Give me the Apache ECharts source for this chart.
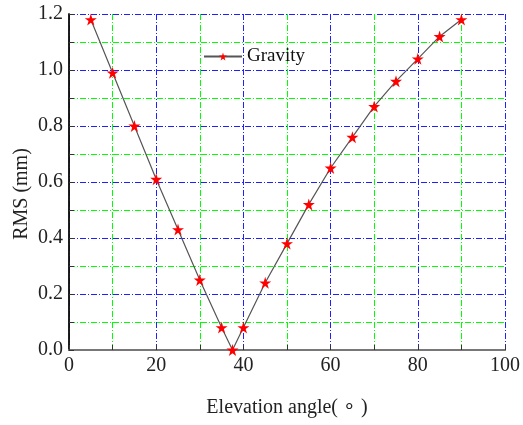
<!DOCTYPE html>
<html>
<head>
<meta charset="utf-8">
<script src="https://cdn.jsdelivr.net/npm/echarts@6/dist/echarts.min.js"></script>
<style>
html,body{margin:0;padding:0;background:#fff;}
#c{width:523px;height:425px;}
</style>
</head>
<body>
<div id="c"></div>
<script>
var elevation = [5, 10, 15, 20, 25, 30, 35, 37.5, 40, 45, 50, 55, 60, 65, 70, 75, 80, 85, 90];
var rms = [1.18, 0.99, 0.80, 0.61, 0.43, 0.25, 0.08, 0.0, 0.08, 0.24, 0.38, 0.52, 0.65, 0.76, 0.87, 0.96, 1.04, 1.12, 1.18];
var seriesName = 'Gravity';
var xTitle = 'Elevation angle( \u2218 )';
var yTitle = 'RMS (mm)';

var star = 'path://M50,0 L61,35 L98,35 L68,57 L79,91 L50,70 L21,91 L32,57 L2,35 L39,35 Z';
var font = '"Liberation Serif", "Times New Roman", serif';
var dash = [6, 2, 1, 2];

var chart = echarts.init(document.getElementById('c'));
chart.setOption({
  animation: false,
  backgroundColor: '#fff',
  textStyle: {fontFamily: font},
  grid: {left: 69, right: 14, top: 14, bottom: 75, containLabel: false},
  legend: {
    left: 198, top: 42,
    itemWidth: 38, itemHeight: 10,
    itemGap: 4,
    textStyle: {fontFamily: font, fontSize: 19, color: '#111'},
    data: [{name: seriesName}]
  },
  xAxis: [{
    type: 'value', min: 0, max: 100, interval: 20,
    name: xTitle, nameLocation: 'middle', nameGap: 48,
    nameTextStyle: {fontFamily: font, fontSize: 20, color: '#222'},
    axisLine: {show: true, onZero: false, lineStyle: {color: '#111', width: 1.5}},
    axisTick: {show: true, inside: true, length: 5, lineStyle: {color: '#333'}},
    minorTick: {show: true, splitNumber: 2, length: 5, lineStyle: {color: '#333'}},
    axisLabel: {fontFamily: font, fontSize: 20, color: '#222', margin: 6},
    splitLine: {show: true, lineStyle: {color: '#2020ff', width: 1, type: dash}},
    minorSplitLine: {show: true, lineStyle: {color: '#00ff00', width: 1, type: dash}}
  }, {
    type: 'value', position: 'top', min: 0, max: 100,
    axisLine: {show: true, lineStyle: {color: '#777', width: 2}},
    axisTick: {show: false}, axisLabel: {show: false},
    splitLine: {show: false}, minorSplitLine: {show: false}
  }],
  yAxis: [{
    type: 'value', min: 0, max: 1.2, interval: 0.2,
    name: yTitle, nameLocation: 'middle', nameGap: 37, nameMoveOverlap: false,
    nameTextStyle: {fontFamily: font, fontSize: 20, color: '#222', padding: [0, 24, 0, 0]},
    axisLine: {show: true, onZero: false, lineStyle: {color: '#111', width: 1.5}},
    axisTick: {show: true, inside: true, length: 5, lineStyle: {color: '#333'}},
    minorTick: {show: true, splitNumber: 2, length: 5, lineStyle: {color: '#333'}},
    axisLabel: {fontFamily: font, fontSize: 20, color: '#222', margin: 6,
      formatter: function (v) { return v.toFixed(1); }},
    splitLine: {show: true, lineStyle: {color: '#2020ff', width: 1, type: dash}},
    minorSplitLine: {show: true, lineStyle: {color: '#00ff00', width: 1, type: dash}}
  }, {
    type: 'value', position: 'right', min: 0, max: 1.2,
    axisLine: {show: true, lineStyle: {color: '#111', width: 1.5}},
    axisTick: {show: false}, axisLabel: {show: false},
    splitLine: {show: false}, minorSplitLine: {show: false}
  }],
  series: [{
    name: seriesName,
    type: 'line',
    data: elevation.map(function (x, i) { return [x, rms[i]]; }),
    symbol: star,
    symbolSize: 12,
    showAllSymbol: true,
    itemStyle: {color: '#ff0000', borderWidth: 0},
    lineStyle: {color: '#555', width: 1.2},
    z: 5
  }]
});
</script>
</body>
</html>
